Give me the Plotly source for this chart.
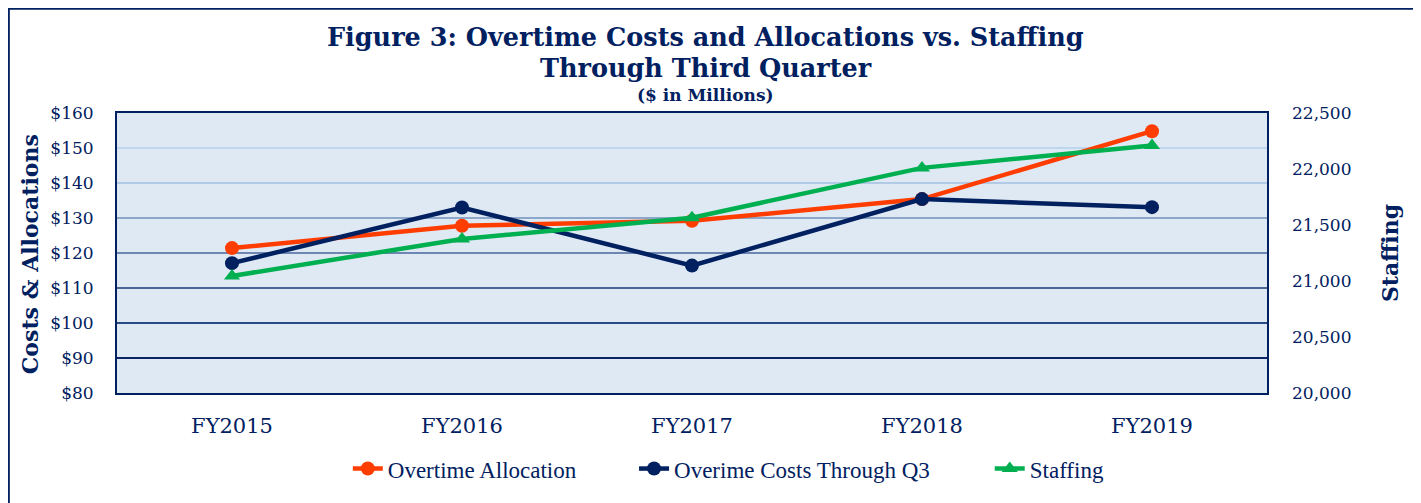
import plotly.graph_objects as go

categories = ["FY2015", "FY2016", "FY2017", "FY2018", "FY2019"]
overtime_allocation = [121.4, 127.8, 129.2, 135.4, 154.8]
overtime_costs_q3 = [117.1, 133.0, 116.4, 135.4, 133.1]
staffing = [21045, 21375, 21565, 22010, 22210]

left_ticks = [80, 90, 100, 110, 120, 130, 140, 150, 160]
left_tick_labels = ["$80", "$90", "$100", "$110", "$120", "$130", "$140", "$150", "$160"]
right_ticks = [20000, 20500, 21000, 21500, 22000, 22500]
right_tick_labels = ["20,000", "20,500", "21,000", "21,500", "22,000", "22,500"]
grid_values = [90, 100, 110, 120, 130, 140, 150]
grid_colors = ["#0B2463", "#2A4A84", "#4A6596", "#6E87B2", "#8CA7CA", "#B1CBE6", "#BDD7EE"]

NAVY = "#002060"
ORANGE = "#FF3D00"
GREEN = "#00B050"

fig = go.Figure()
fig.add_trace(go.Scatter(
    x=categories, y=overtime_allocation, name="Overtime Allocation",
    mode="lines+markers", line=dict(color=ORANGE, width=4.5),
    marker=dict(symbol="circle", size=14, color=ORANGE), yaxis="y", legend="legend"))
fig.add_trace(go.Scatter(
    x=categories, y=overtime_costs_q3, name="Overime Costs Through Q3",
    mode="lines+markers", line=dict(color=NAVY, width=4.5),
    marker=dict(symbol="circle", size=14, color=NAVY), yaxis="y", legend="legend2"))
fig.add_trace(go.Scatter(
    x=categories, y=staffing, name="Staffing",
    mode="lines+markers", line=dict(color=GREEN, width=4.5),
    marker=dict(symbol="triangle-up", size=14, color=GREEN), yaxis="y2", legend="legend3"))

shapes = []
for v, c in zip(grid_values, grid_colors):
    shapes.append(dict(type="line", xref="paper", yref="y", x0=0, x1=1, y0=v, y1=v,
                       line=dict(color=c, width=2), layer="below"))
# outer frame
shapes.append(dict(type="rect", xref="paper", yref="paper",
                   x0=-0.0945, x1=1.1295, y0=-0.5, y1=1.374,
                   line=dict(color=NAVY, width=3)))

tick_font = dict(family="DejaVu Serif", size=17, color=NAVY)
legend_font = dict(family="Liberation Serif", size=23, color=NAVY)


def legend_at(x):
    return dict(orientation="h", x=x, xanchor="left", y=-0.27, yanchor="middle",
                font=legend_font, itemwidth=30, bgcolor="rgba(0,0,0,0)")


fig.update_layout(
    width=1421, height=503,
    margin=dict(l=109, r=162, t=105, b=118),
    paper_bgcolor="white",
    plot_bgcolor="#DFE9F4",
    showlegend=True,
    legend=legend_at(0.2007),
    legend2=legend_at(0.4496),
    legend3=legend_at(0.7589),
    xaxis=dict(range=[-0.5, 4.5], showgrid=False, zeroline=False,
               showline=True, mirror=True, linecolor=NAVY, linewidth=2,
               tickfont=dict(family="DejaVu Serif", size=21, color=NAVY),
               ticks="outside", ticklen=13, tickcolor="rgba(0,0,0,0)"),
    yaxis=dict(range=[80, 160], tickmode="array", tickvals=left_ticks, ticktext=left_tick_labels,
               showgrid=False, zeroline=False, showline=True, mirror=True,
               linecolor=NAVY, linewidth=2, tickfont=tick_font, ticklabelstandoff=18),
    yaxis2=dict(range=[20000, 22500], tickmode="array", tickvals=right_ticks,
                ticktext=right_tick_labels,
                overlaying="y", side="right", showgrid=False, zeroline=False,
                tickfont=tick_font, ticklabelstandoff=24),
    shapes=shapes,
    annotations=[
        dict(text="<b>Figure 3: Overtime Costs and Allocations vs. Staffing</b>",
             x=0.512, y=1.272, xref="paper", yref="paper", showarrow=False,
             xanchor="center", yanchor="middle",
             font=dict(family="DejaVu Serif", size=25.5, color=NAVY)),
        dict(text="<b>Through Third Quarter</b>",
             x=0.512, y=1.160, xref="paper", yref="paper", showarrow=False,
             xanchor="center", yanchor="middle",
             font=dict(family="DejaVu Serif", size=25.5, color=NAVY)),
        dict(text="<b>($ in Millions)</b>",
             x=0.512, y=1.064, xref="paper", yref="paper", showarrow=False,
             xanchor="center", yanchor="middle",
             font=dict(family="DejaVu Serif", size=17, color=NAVY)),
        dict(text="<b>Costs & Allocations</b>", textangle=-90,
             x=-0.075, y=0.495, xref="paper", yref="paper", showarrow=False,
             xanchor="center", yanchor="middle",
             font=dict(family="DejaVu Serif", size=22, color=NAVY)),
        dict(text="<b>Staffing</b>", textangle=-90,
             x=1.107, y=0.5, xref="paper", yref="paper", showarrow=False,
             xanchor="center", yanchor="middle",
             font=dict(family="DejaVu Serif", size=22, color=NAVY)),
    ],
)

fig.write_html("out.html")
